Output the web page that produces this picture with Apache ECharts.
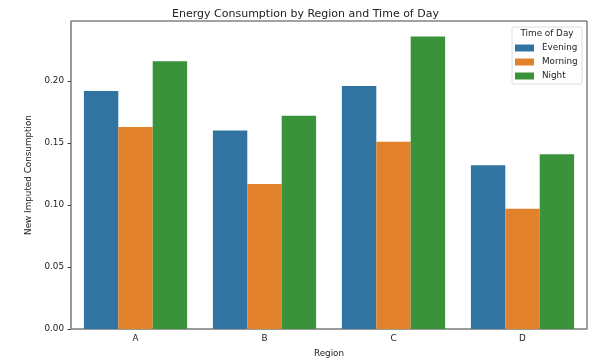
<!DOCTYPE html>
<html>
<head>
<meta charset="utf-8">
<script src="https://cdn.jsdelivr.net/npm/echarts@6/dist/echarts.min.js"></script>
<style>html,body{margin:0;padding:0;background:#fff}#c{width:611px;height:363px}</style>
</head>
<body>
<div id="c"></div>
<script>
var regions = ['A', 'B', 'C', 'D'];
var seriesNames = ['Evening', 'Morning', 'Night'];
var evening = [0.192, 0.160, 0.196, 0.132];
var morning = [0.163, 0.117, 0.151, 0.097];
var night = [0.216, 0.172, 0.236, 0.141];
var yTicks = [0, 0.05, 0.10, 0.15, 0.20];
var colors = ['#3274a1', '#e1812c', '#3a923a'];

var font = 'DejaVu Sans';
var chart = echarts.init(document.getElementById('c'), null, {renderer: 'canvas'});
var values = [evening, morning, night];
chart.setOption({
  animation: false,
  backgroundColor: '#fff',
  title: {
    text: 'Energy Consumption by Region and Time of Day',
    left: 'center', top: 4,
    textStyle: {fontFamily: font, fontSize: 11, fontWeight: 'normal', color: '#222'}
  },
  grid: {left: 71, right: 24, top: 21, bottom: 33, show: true, borderColor: '#444', borderWidth: 1, backgroundColor: 'transparent'},
  legend: {
    orient: 'vertical', left: 515, top: 43, padding: 0, itemGap: 4,
    itemWidth: 19, itemHeight: 7, icon: 'rect',
    data: seriesNames,
    textStyle: {fontFamily: font, fontSize: 8.8, color: '#222', lineHeight: 10, padding: [0, 0, 0, 3]}
  },
  graphic: [
    {type: 'rect', z: 3, shape: {x: 512, y: 27, width: 70, height: 57, r: 2}, style: {fill: '#fff', stroke: '#ddd', lineWidth: 1}},
    {type: 'text', z: 5, style: {x: 547, y: 34, text: 'Time of Day', textAlign: 'center', textVerticalAlign: 'middle', font: '8.8px "DejaVu Sans"', fill: '#222'}}
  ],
  xAxis: {
    type: 'category', data: regions,
    name: 'Region', nameLocation: 'middle', nameGap: 20,
    nameTextStyle: {fontFamily: font, fontSize: 8.8, color: '#222'},
    axisLine: {lineStyle: {color: '#999', width: 1.5}},
    axisTick: {alignWithLabel: true, length: 3.5, lineStyle: {color: '#444'}},
    axisLabel: {fontFamily: font, fontSize: 8.8, color: '#222', margin: 5}
  },
  yAxis: {
    type: 'value', min: 0, max: 0.2484, interval: 0.05,
    name: 'New Imputed Consumption', nameLocation: 'middle', nameGap: 34,
    nameTextStyle: {fontFamily: font, fontSize: 8.8, color: '#222'},
    axisLine: {show: true, lineStyle: {color: '#999', width: 1.5}},
    axisTick: {show: true, length: 3.5, customValues: yTicks, lineStyle: {color: '#444'}},
    splitLine: {show: false},
    axisLabel: {fontFamily: font, fontSize: 8.8, color: '#222', margin: 7, customValues: yTicks,
      formatter: function (v) { return v.toFixed(2); }}
  },
  series: seriesNames.map(function (n, i) {
    return {
      name: n, type: 'bar', data: values[i],
      barWidth: '26.67%', barGap: '0%', barCategoryGap: '20%',
      itemStyle: {color: colors[i]}
    };
  })
});
</script>
</body>
</html>
